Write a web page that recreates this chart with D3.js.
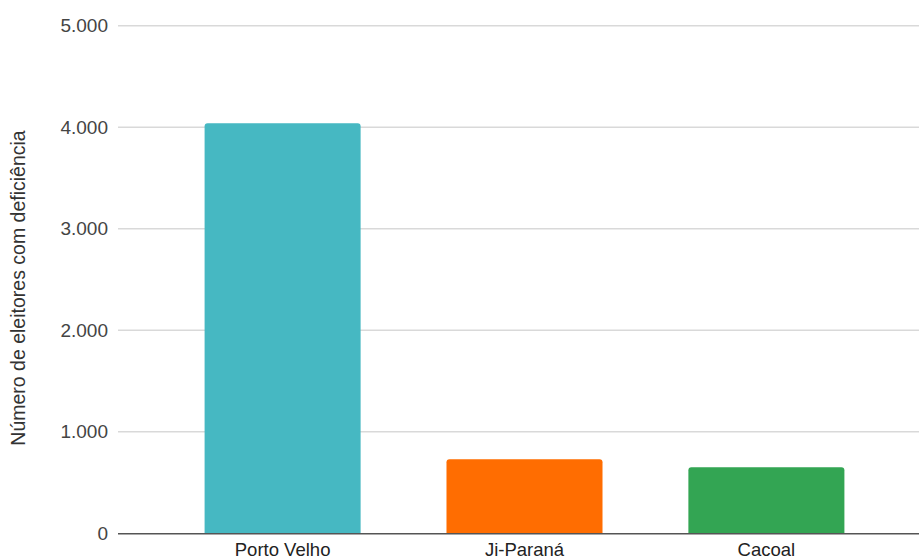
<!DOCTYPE html>
<html>
<head>
<meta charset="utf-8">
<script src="https://cdn.jsdelivr.net/npm/d3@7"></script>
<style>
  body { margin: 0; background: #fff; }
  svg { display: block; font-family: "Liberation Sans", Arial, sans-serif; }
</style>
</head>
<body>
<svg id="chart" width="919" height="560"></svg>
<script>
var cities = ["Porto Velho", "Ji-Paraná", "Cacoal"];
var eleitores = [4040, 729, 650];
var barColors = ["#46b8c2", "#ff6d01", "#33a553"];
var yTicks = [0, 1000, 2000, 3000, 4000, 5000];
var yTitle = "Número de eleitores com deficiência";

var svg = d3.select("#chart");
var plotLeft = 118, plotRight = 919, plotTop = 25.7, plotBottom = 533.3;

var x = d3.scaleBand()
  .domain(cities)
  .range([plotLeft, 931])
  .paddingInner(0.355)
  .paddingOuter(0.358);

var y = d3.scaleLinear()
  .domain([0, 5000])
  .range([plotBottom, plotTop]);

var fmt = d3.format(",");
function ptBR(v) { return fmt(v).replace(/,/g, "."); }

// gridlines
svg.append("g")
  .selectAll("line")
  .data(yTicks.filter(function(d) { return d > 0; }))
  .join("line")
    .attr("x1", plotLeft)
    .attr("x2", plotRight)
    .attr("y1", function(d) { return y(d); })
    .attr("y2", function(d) { return y(d); })
    .attr("stroke", "#d9d9d9")
    .attr("stroke-width", 1.5);

// y tick labels
svg.append("g")
  .selectAll("text")
  .data(yTicks)
  .join("text")
    .attr("x", 108)
    .attr("y", function(d) { return y(d); })
    .attr("dy", "0.35em")
    .attr("text-anchor", "end")
    .attr("fill", "#444")
    .style("font-size", "19px")
    .text(ptBR);

// bars with slightly rounded tops
var r = 3;
svg.append("g")
  .selectAll("path")
  .data(cities)
  .join("path")
    .attr("fill", function(d, i) { return barColors[i]; })
    .attr("d", function(d, i) {
      var x0 = x(d), x1 = x(d) + x.bandwidth(), yt = y(eleitores[i]), yb = y(0);
      return "M" + x0 + "," + yb +
        "V" + (yt + r) +
        "Q" + x0 + "," + yt + " " + (x0 + r) + "," + yt +
        "H" + (x1 - r) +
        "Q" + x1 + "," + yt + " " + x1 + "," + (yt + r) +
        "V" + yb + "Z";
    });

// baseline
svg.append("line")
  .attr("x1", plotLeft)
  .attr("x2", plotRight)
  .attr("y1", y(0) + 0.5)
  .attr("y2", y(0) + 0.5)
  .attr("stroke", "#555")
  .attr("stroke-width", 1.6);

// category labels
svg.append("g")
  .selectAll("text")
  .data(cities)
  .join("text")
    .attr("x", function(d) { return x(d) + x.bandwidth() / 2; })
    .attr("y", 555.5)
    .attr("text-anchor", "middle")
    .attr("fill", "#222")
    .style("font-size", "18.5px")
    .text(function(d) { return d; });

// y axis title
svg.append("text")
  .attr("transform", "translate(25,288) rotate(-90)")
  .attr("text-anchor", "middle")
  .attr("fill", "#333")
  .style("font-size", "19.5px")
  .text(yTitle);
</script>
</body>
</html>
